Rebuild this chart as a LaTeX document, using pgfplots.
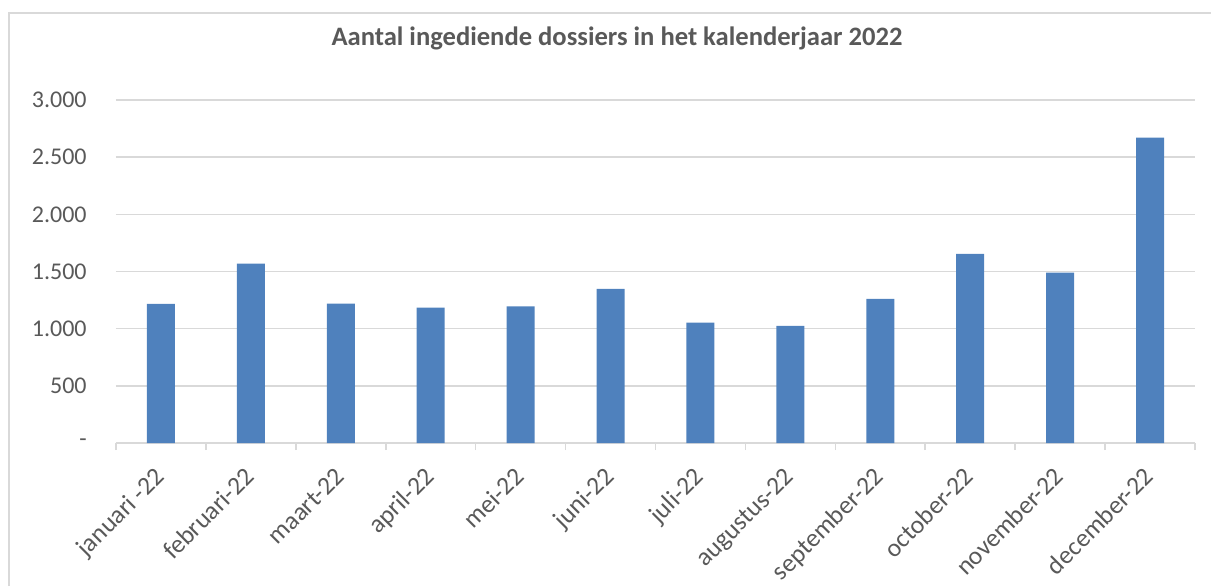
\documentclass[border=0pt]{standalone}
\usepackage{pgfplots}
\pgfplotsset{compat=1.18}
\usepackage{fontspec}
\setmainfont{Carlito}
\definecolor{barblue}{HTML}{4F81BD}
\definecolor{gridgray}{HTML}{D9D9D9}
\definecolor{txtgray}{HTML}{595959}
\begin{document}
\begin{tikzpicture}
\useasboundingbox (0,0) rectangle (605.5pt,293pt);
\draw[gridgray, line width=0.8pt] (4.5pt,0) -- (4.5pt,286.5pt) -- (605.5pt,286.5pt);
\node[font=\fontsize{13.3}{16}\selectfont\bfseries, text=txtgray] at (308.5pt,274pt) {Aantal ingediende dossiers in het kalenderjaar 2022};
\begin{axis}[
  at={(58pt,71.5pt)}, anchor=south west,
  width=539.5pt, height=171.5pt, scale only axis,
  xmin=-0.5, xmax=11.5, ymin=0, ymax=3000,
  ybar, bar width=14pt,
  xtick={0,...,11},
  xticklabels={januari -22,februari-22,maart-22,april-22,mei-22,juni-22,juli-22,augustus-22,september-22,october-22,november-22,december-22},
  minor xtick={-0.5,0.5,...,11.5},
  ytick={0,500,...,3000},
  yticklabels={-\hspace{5.5pt},500,1.000,1.500,2.000,2.500,3.000},
  ymajorgrids, grid style={gridgray, line width=0.8pt},
  axis lines*=left,
  y axis line style={draw=none},
  x axis line style={gridgray, line width=0.8pt},
  major tick length=0pt, minor tick length=3.5pt, tick align=outside,
  minor tick style={gridgray, line width=0.8pt},
  yticklabel style={font=\fontsize{12}{14}\selectfont, text=txtgray, inner sep=0pt, xshift=-14.5pt, anchor=east},
  xticklabel style={font=\fontsize{12.8}{15}\selectfont, text=txtgray, xshift=2.5pt, yshift=-17.5pt, rotate=45, anchor=base east, inner sep=0pt},
  clip=false,
]
\addplot[fill=barblue, draw=none] coordinates {
(0,1217) (1,1570) (2,1220) (3,1185) (4,1194) (5,1349) (6,1052) (7,1025) (8,1261) (9,1655) (10,1491) (11,2671)
};
\end{axis}
\end{tikzpicture}
\end{document}
